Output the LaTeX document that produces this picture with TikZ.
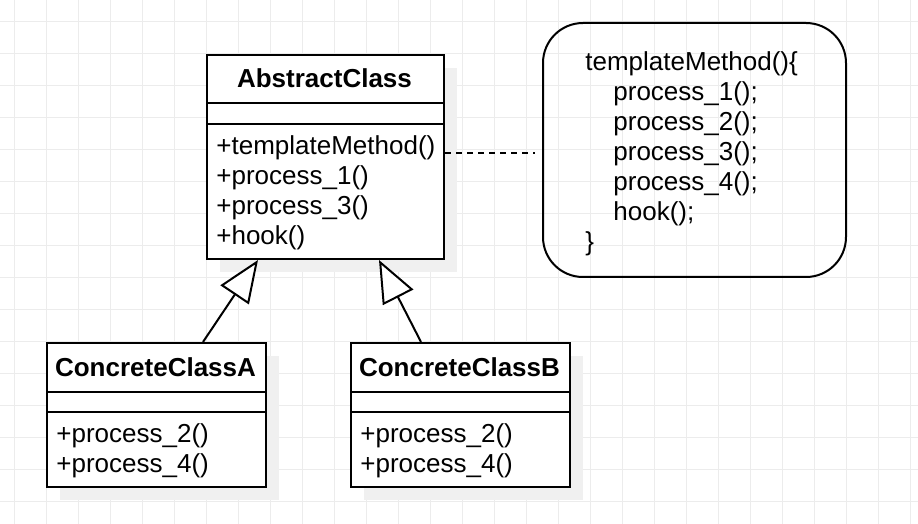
\documentclass[tikz,border=0pt]{standalone}
\usepackage{fontspec}
\setmainfont{Liberation Sans}
\usetikzlibrary{arrows.meta, positioning, calc}
\definecolor{gridgray}{RGB}{236, 236, 236}
\definecolor{shadowgray}{RGB}{240, 240, 240}

\tikzset{
    umltext/.style={font=\fontsize{13}{15}\selectfont, inner sep=0pt, anchor=base west},
    umltitle/.style={font=\fontsize{13}{15}\selectfont\bfseries, inner sep=0pt, anchor=base},
    classbox/.style={draw, line width=1pt, inner sep=0pt, anchor=north west, minimum width=109.5pt},
    inherit/.style={line width=1pt, -{Triangle[open, length=21pt, width=17pt, fill=white]}},
    notelink/.style={line width=1pt, dash pattern=on 3pt off 2.5pt}
}

\begin{document}
\begin{tikzpicture}[x=0.5pt, y=-0.5pt]
    % background grid
    \fill[white] (0,0) rectangle (918,524);
    \useasboundingbox (0,0) rectangle (918,524);
    \foreach \gx in {14,46,...,910} {
        \draw[gridgray, line width=0.5pt] (\gx,0) -- (\gx,524);
    }
    \foreach \gy in {22,54,...,524} {
        \draw[gridgray, line width=0.5pt] (0,\gy) -- (918,\gy);
    }

    % shadows
    \fill[shadowgray] (220,68) rectangle (457,272);
    \fill[shadowgray] (60,356) rectangle (279,500);
    \fill[shadowgray] (364,356) rectangle (583,500);

    % AbstractClass
    \node[classbox, fill=white, minimum width=118.5pt, minimum height=102pt] (abstract) at (206,54) {};
    \draw[line width=1pt] ($(abstract.north west)+(0,49)$) -- ($(abstract.north east)+(0,49)$);
    \draw[line width=1pt] ($(abstract.north west)+(0,70)$) -- ($(abstract.north east)+(0,70)$);
    \node[umltitle] (abstractName) at (324.5,88) {AbstractClass};
    \foreach \m [count=\i from 0] in {{+templateMethod()}, {+process\_1()}, {+process\_3()}, {+hook()}} {
        \node[umltext] (abstractOp\i) at (216,155+30*\i) {\m};
    }

    % ConcreteClassA
    \node[classbox, fill=white, minimum height=72pt] (concreteA) at (46,342) {};
    \draw[line width=1pt] ($(concreteA.north west)+(0,50)$) -- ($(concreteA.north east)+(0,50)$);
    \draw[line width=1pt] ($(concreteA.north west)+(0,70)$) -- ($(concreteA.north east)+(0,70)$);
    \node[umltitle] (concreteAName) at (155.5,377) {ConcreteClassA};
    \foreach \m [count=\i from 0] in {{+process\_2()}, {+process\_4()}} {
        \node[umltext] (concreteAOp\i) at (56,443+30*\i) {\m};
    }

    % ConcreteClassB
    \node[classbox, fill=white, minimum height=72pt] (concreteB) at (350,342) {};
    \draw[line width=1pt] ($(concreteB.north west)+(0,50)$) -- ($(concreteB.north east)+(0,50)$);
    \draw[line width=1pt] ($(concreteB.north west)+(0,70)$) -- ($(concreteB.north east)+(0,70)$);
    \node[umltitle] (concreteBName) at (459.5,377) {ConcreteClassB};
    \foreach \m [count=\i from 0] in {{+process\_2()}, {+process\_4()}} {
        \node[umltext] (concreteBOp\i) at (360,443+30*\i) {\m};
    }

    % note
    \node[draw, line width=1pt, rounded corners=20pt, anchor=north west,
          minimum width=151.5pt, minimum height=127pt] (note) at (542,22) {};
    \node[umltext] (noteHead) at (585,71) {templateMethod()\{};
    \foreach \m [count=\i from 0] in {{process\_1();}, {process\_2();}, {process\_3();}, {process\_4();}, {hook();}} {
        \node[umltext] (noteLine\i) at (613,101+30*\i) {\m};
    }
    \node[umltext] (noteTail) at (585,251) {\}};

    % inheritance and note link
    \draw[inherit] ($(concreteA.north)+(46.5,0)$) -- ($(abstract.south)+(-67.5,0)$);
    \draw[inherit] ($(concreteB.north)+(-39.5,0)$) -- ($(abstract.south)+(53.5,0)$);
    \coordinate (noteEnd) at (535,153);
    \draw[notelink] ($(abstract.north east)+(0,99)$) -- (noteEnd);
\end{tikzpicture}
\end{document}
